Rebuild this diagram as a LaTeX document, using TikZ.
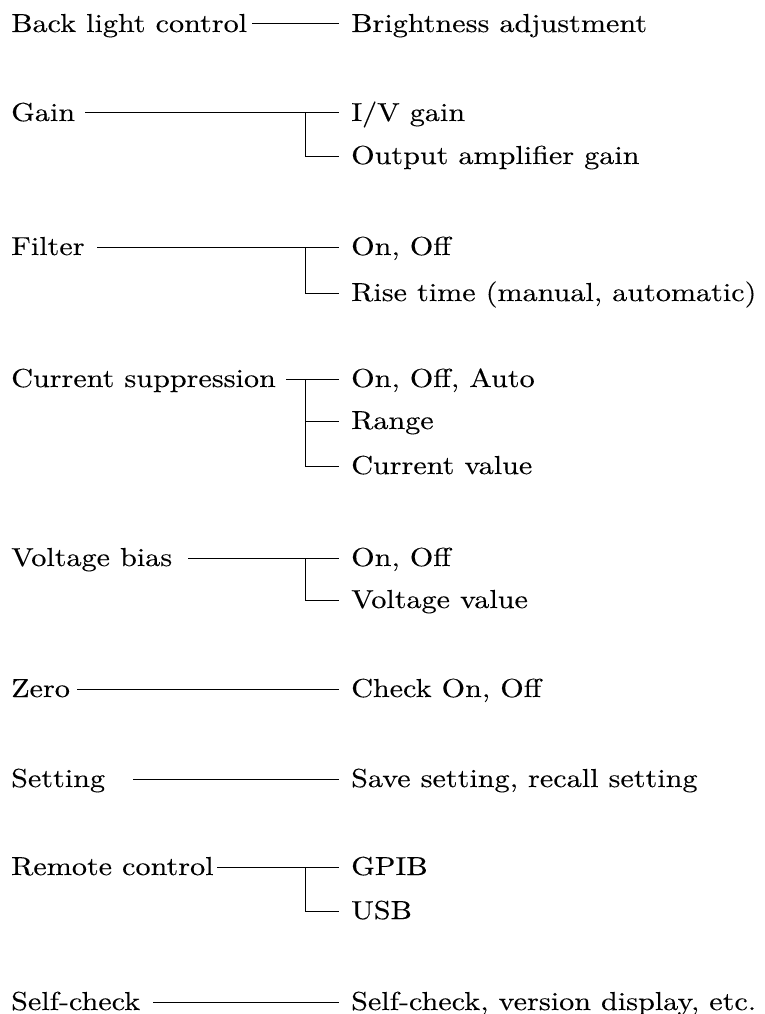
\documentclass[tikz,border=0pt]{standalone}
\usepackage{fontspec}
\setmainfont{lmroman10-regular.otf}[FakeStretch=1.16, FakeBold=0.2]
\tikzset{
  lbl/.style={anchor=base west, inner sep=0pt, font=\fontsize{26}{30}\selectfont},
  conn/.style={line width=1pt, line cap=butt}
}
\begin{document}
\begin{tikzpicture}[x=1pt,y=-1pt]
\useasboundingbox (0,0) rectangle (764,1014);
% Row 1
\node[lbl] (l1) at (11,32) {Back light control};
\node[lbl] (r1) at (351,32) {Brightness adjustment};
\coordinate (s1) at (252,24);
\draw[conn] (s1) -- ([xshift=-12pt]r1.west |- s1);
% Row 2
\node[lbl] (l2) at (11,121) {Gain};
\node[lbl] (r2a) at (351,121) {I/V gain};
\node[lbl] (r2b) at (351,164) {Output amplifier gain};
\coordinate (s2) at (85,113);
\coordinate (j2) at (305,113);
\draw[conn] (s2) -- ([xshift=-12pt]r2a.west |- s2);
\draw[conn] (j2) |- ([xshift=-12pt]r2b.west |- 0,156);
% Row 3
\node[lbl] (l3) at (11,255) {Filter};
\node[lbl] (r3a) at (351,255) {On, Off};
\node[lbl] (r3b) at (351,301) {Rise time (manual, automatic)};
\coordinate (s3) at (97,247);
\coordinate (j3) at (305,247);
\draw[conn] (s3) -- ([xshift=-12pt]r3a.west |- s3);
\draw[conn] (j3) |- ([xshift=-12pt]r3b.west |- 0,293);
% Row 4
\node[lbl] (l4) at (11,387) {Current suppression};
\node[lbl] (r4a) at (351,387) {On, Off, Auto};
\node[lbl] (r4b) at (351,429) {Range};
\node[lbl] (r4c) at (351,474) {Current value};
\coordinate (s4) at (286,379);
\coordinate (j4) at (305,379);
\draw[conn] (s4) -- ([xshift=-12pt]r4a.west |- s4);
\draw[conn] (j4) |- ([xshift=-12pt]r4c.west |- 0,466);
\draw[conn] (305,421) -- ([xshift=-12pt]r4b.west |- 0,421);
% Row 5
\node[lbl] (l5) at (11,566) {Voltage bias};
\node[lbl] (r5a) at (351,566) {On, Off};
\node[lbl] (r5b) at (351,608) {Voltage value};
\coordinate (s5) at (188,558);
\coordinate (j5) at (305,558);
\draw[conn] (s5) -- ([xshift=-12pt]r5a.west |- s5);
\draw[conn] (j5) |- ([xshift=-12pt]r5b.west |- 0,600);
% Row 6
\node[lbl] (l6) at (11,697) {Zero};
\node[lbl] (r6) at (351,697) {Check On, Off};
\coordinate (s6) at (77,689);
\draw[conn] (s6) -- ([xshift=-12pt]r6.west |- s6);
% Row 7
\node[lbl] (l7) at (11,787) {Setting};
\node[lbl] (r7) at (351,787) {Save setting, recall setting};
\coordinate (s7) at (133,779);
\draw[conn] (s7) -- ([xshift=-12pt]r7.west |- s7);
% Row 8
\node[lbl] (l8) at (11,875) {Remote control};
\node[lbl] (r8a) at (351,875) {GPIB};
\node[lbl] (r8b) at (351,919) {USB};
\coordinate (s8) at (217,867);
\coordinate (j8) at (305,867);
\draw[conn] (s8) -- ([xshift=-12pt]r8a.west |- s8);
\draw[conn] (j8) |- ([xshift=-12pt]r8b.west |- 0,911);
% Row 9
\node[lbl] (l9) at (11,1010) {Self-check};
\node[lbl] (r9) at (351,1010) {Self-check, version display, etc.};
\coordinate (s9) at (153,1002);
\draw[conn] (s9) -- ([xshift=-12pt]r9.west |- s9);
\end{tikzpicture}
\end{document}
